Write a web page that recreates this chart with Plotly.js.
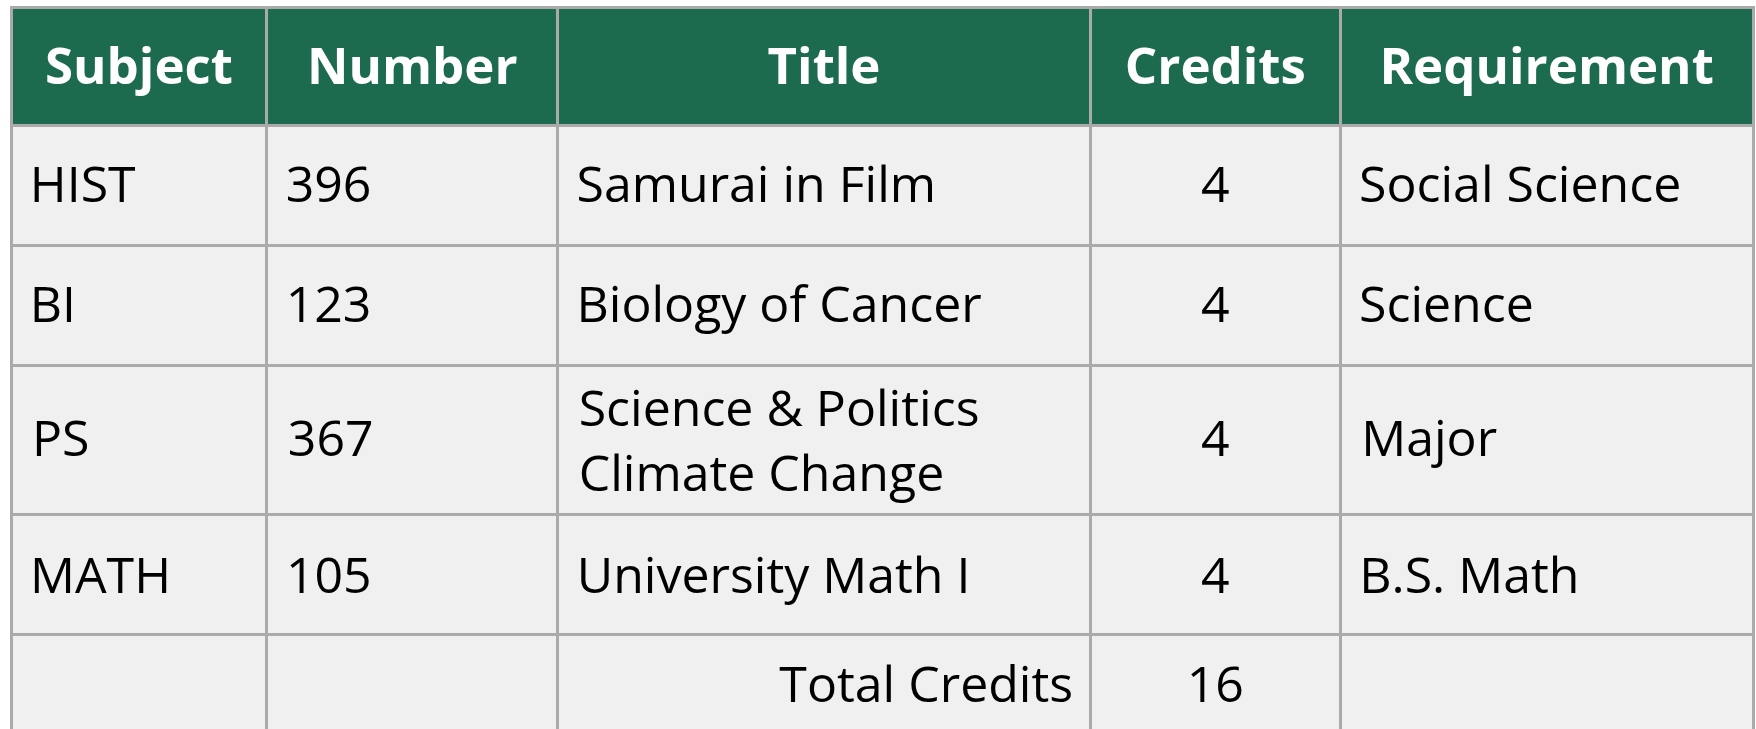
<!DOCTYPE html>
<html>
<head>
<meta charset="utf-8">
<script src="https://cdn.plot.ly/plotly-3.0.1.min.js"></script>
<style>
html, body { margin: 0; padding: 0; background: #ffffff; overflow: hidden; }
#chart { width: 1756px; height: 860px; }
</style>
</head>
<body>
<div id="chart"></div>
<script>
// ---- data ----
const headers = ["Subject", "Number", "Title", "Credits", "Requirement"];
const subjects = ["HIST", "BI", "PS", "MATH", ""];
const numbers = ["396", "123", "367", "105", ""];
const titles = ["Samurai in Film", "Biology of Cancer", "Science & Politics<br>Climate Change", "University Math I", "Total Credits"];
const credits = [4, 4, 4, 4, 16];
const requirements = ["Social Science", "Science", "Major", "B.S. Math", ""];

// ---- layout / styling ----
const W = 1756, H = 860;
const colWidths = [256, 291, 533, 250, 413];
const FS = 50;                 // body font size
const HFS = 51;                // header font size
const ASC = 1.069;             // Open Sans ascent (em)
const visRowH = [120, 120, 148, 123, 101]; // visual row heights used for vertical centring
const S1 = 16;                 // extra drop to centre a single line in a 120px row
const HS = 15;                 // extra drop to centre header text

// Plotly tables top-align text by its bounding box; a taller (invisible) spacer
// glyph raises the box top and so lowers the visible text into the cell centre.
// "\n" inside the tag keeps the table from splitting it; plotly turns it into a space.
function spacer(base, drop) {
  const f = (base + drop / ASC).toFixed(1);
  return '<span\nstyle="font-size:' + f + 'px">\u2009</span>';
}
function fmt(s, row, align) {
  s = String(s);
  if (s === "") return "";
  const lines = s.split("<br>");
  if (lines.length > 1) {
    return lines.map(l => (align === "left" ? "\u00a0" + l : align === "right" ? l + "\u00a0" : l)).join("<br>");
  }
  const sp = spacer(FS, S1 + (visRowH[row] - 120) / 2);
  if (align === "left") return sp + s;
  if (align === "right") return s + sp;
  return sp + s + sp;
}

const nRows = subjects.length;
const cols = [subjects, numbers, titles, credits, requirements];
const aligns = cols.map((c, ci) => c.map((v, ri) => {
  if (ci === 3) return "center";
  if (ci === 2 && ri === nRows - 1) return "right";
  return "left";
}));
const cellValues = cols.map((c, ci) => c.map((v, ri) => fmt(v, ri, aligns[ci][ri])));
const hsp = spacer(HFS, HS);

const trace = {
  type: "table",
  domain: { x: [11 / W, 1754 / W], y: [0, 1 - 7 / H] },
  columnwidth: colWidths,
  header: {
    values: headers.map(h => hsp + '<b>' + h + '</b>' + hsp),
    align: "center",
    height: 118,
    fill: { color: "#1c6b4e" },
    line: { color: "#aaaaaa", width: 3 },
    font: { family: "Open Sans, sans-serif", size: HFS, color: "#ffffff" }
  },
  cells: {
    values: cellValues,
    align: aligns,
    height: 120,
    fill: { color: "#f0f0f0" },
    line: { color: "#aaaaaa", width: 3 },
    font: { family: "Open Sans, sans-serif", size: FS, color: "#000000" }
  }
};

Plotly.newPlot("chart", [trace], {
  width: W, height: H,
  margin: { l: 0, r: 0, t: 0, b: 0 },
  paper_bgcolor: "#ffffff"
}, { displayModeBar: false, staticPlot: true });
</script>
</body>
</html>
